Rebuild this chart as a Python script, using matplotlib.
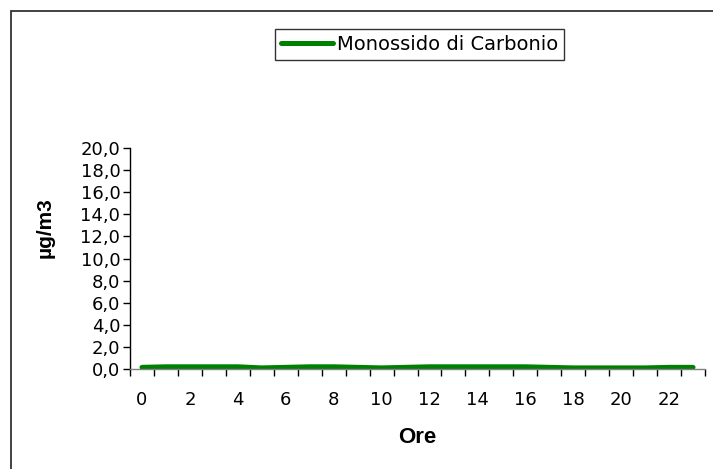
import numpy as np
import matplotlib.pyplot as plt
from matplotlib.patches import Rectangle
from matplotlib.ticker import FixedLocator, FuncFormatter

plt.rcParams['font.family'] = ['DejaVu Sans']

# hourly values of carbon monoxide
hours = list(range(24))
co_values = [0.15, 0.2, 0.2, 0.2, 0.2, 0.1, 0.15, 0.2, 0.2, 0.15, 0.1, 0.15,
             0.2, 0.2, 0.2, 0.2, 0.2, 0.15, 0.1, 0.1, 0.1, 0.1, 0.15, 0.15]
hour_labels = [str(h) for h in hours[::2]]

fig = plt.figure(figsize=(7.13, 4.69), dpi=100)
# outer chart border (cut at right and bottom)
fig.patches.append(Rectangle((11 / 713, -0.1), 1.0, 1 - 11 / 469 + 0.1,
                             transform=fig.transFigure, fill=False,
                             edgecolor='#333333', linewidth=1.3))

ax = fig.add_axes([130 / 713, 1 - 369 / 469, 575 / 713, 221 / 469])
ax.plot(hours, co_values, color='#008000', linewidth=3.6,
        label='Monossido di Carbonio', solid_capstyle='round')

ax.set_xlim(-0.5, 23.5)
ax.set_ylim(0, 20)
ax.set_yticks(np.arange(0, 21, 2))
ax.yaxis.set_major_formatter(FuncFormatter(lambda v, p: f"{v:.1f}".replace('.', ',')))

# ticks between categories, labels on every second category
ax.xaxis.set_major_locator(FixedLocator(np.arange(-0.5, 24, 1)))
ax.xaxis.set_major_formatter(FuncFormatter(lambda v, p: ''))
ax.xaxis.set_minor_locator(FixedLocator(hours[::2]))
ax.set_xticklabels(hour_labels, minor=True)
ax.tick_params(axis='x', which='major', length=5, width=1, direction='out')
ax.tick_params(axis='x', which='minor', length=0, pad=16, labelsize=13)
ax.tick_params(axis='y', length=5, width=1, labelsize=13, pad=2)

for s in ['top', 'right']:
    ax.spines[s].set_visible(False)
ax.spines['left'].set_linewidth(1)
ax.spines['bottom'].set_linewidth(1)
ax.spines['bottom'].set_color('#808080')

ax.set_xlabel('Ore', fontsize=16, fontweight='bold', family='Liberation Sans')
ax.xaxis.set_label_coords(0.5, -(437.5 - 369) / 221)
ax.xaxis.label.set_va('center')
ax.set_ylabel('µg/m3', fontsize=15, fontweight='bold', family='Liberation Sans')
ax.yaxis.set_label_coords(-(130 - 45) / 575, (369 - 228) / 221)
ax.yaxis.label.set_va('center')

leg = ax.legend(loc='center', bbox_to_anchor=(419.5 / 575 - 130 / 575, (369 - 44.5) / 221),
                fontsize=14, frameon=True, fancybox=False, edgecolor='black',
                handlelength=2.7, handletextpad=0.2, borderpad=0.3,
                borderaxespad=0)
leg.get_frame().set_linewidth(1)
for line in leg.get_lines():
    line.set_linewidth(3.6)

fig.savefig('out.png', dpi=100)
